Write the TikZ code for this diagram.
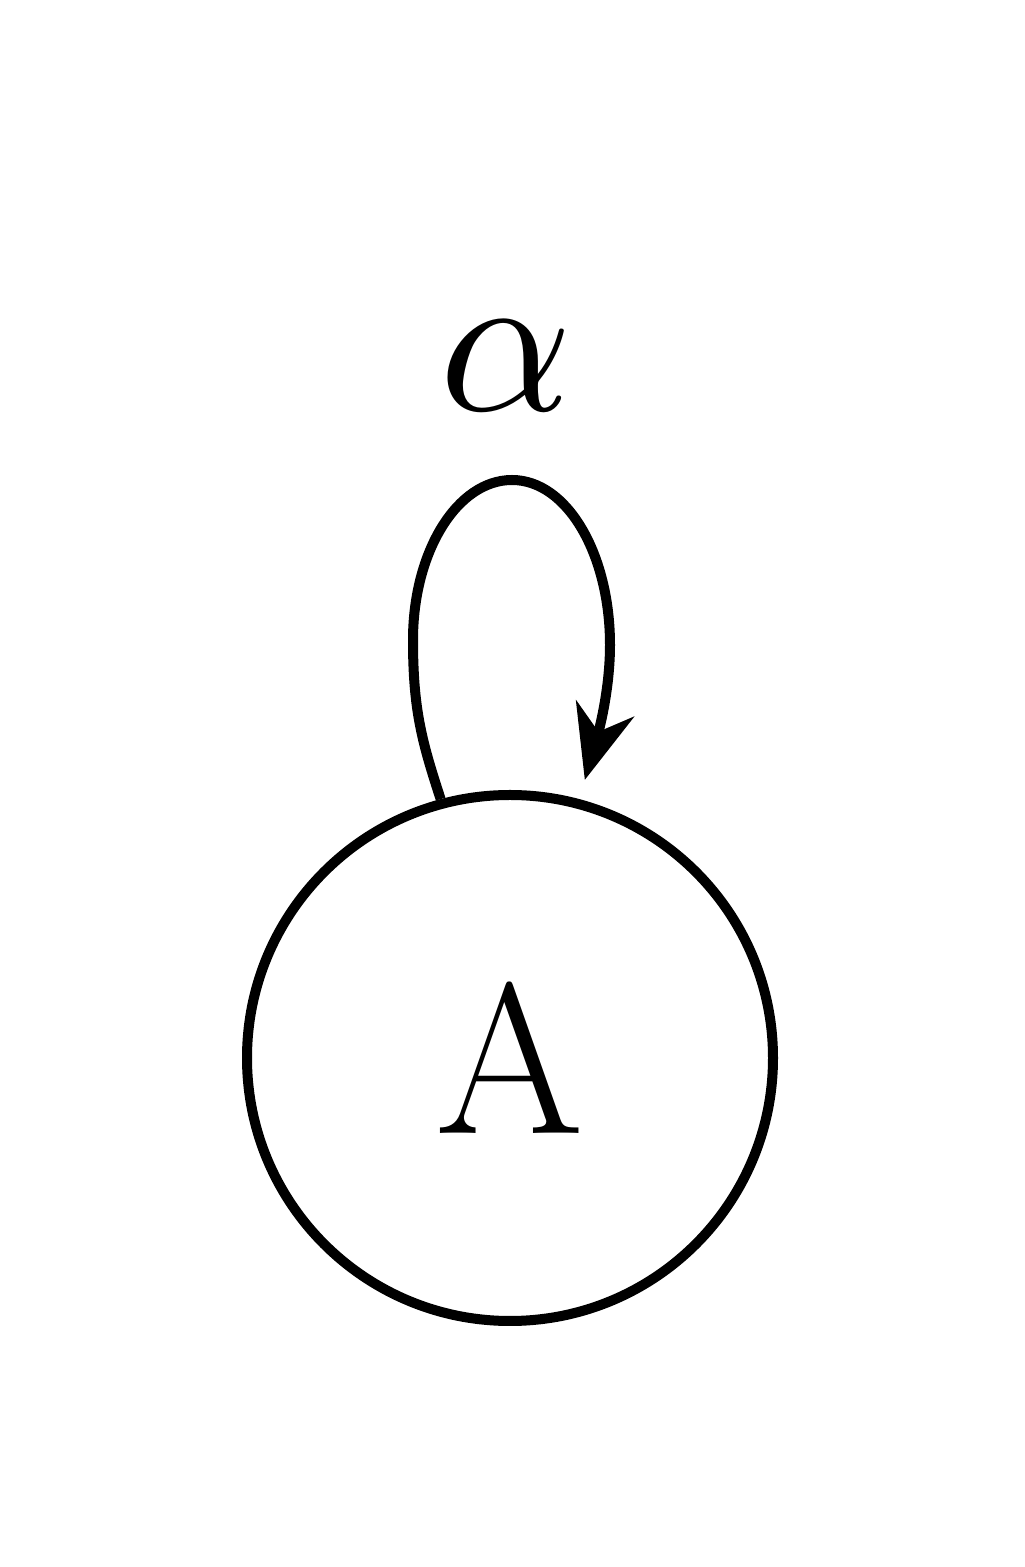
\documentclass[tikz,border=0pt]{standalone}
\usetikzlibrary{arrows.meta}
\begin{document}
\begin{tikzpicture}[
  state/.style={draw, circle, line width=0.1cm, minimum size=5.26cm, inner sep=0pt, font=\fontsize{61}{72}\selectfont},
  loopline/.style={line width=0.1cm, -{Stealth[length=0.74cm, width=0.6cm, inset=0.24cm]}},
  lbl/.style={scale=5.9, inner sep=0pt}
]
\useasboundingbox (0,0) rectangle (10.24,15.67);
\node[state] (A) at (5.10,5.09) {A};
\coordinate (lft) at (4.13,9.27);
\coordinate (top) at (5.12,10.87);
\coordinate (rgt) at (6.10,9.22);
\node[lbl] (alpha) at (5.06,12.01) {$\alpha$};
\draw[loopline, shorten >=0.2cm] (A.105) .. controls (4.22,8.25) and (4.13,8.57) .. (lft)
  .. controls (4.13,10.15) and (4.57,10.87) .. (top)
  .. controls (5.67,10.87) and (6.10,10.13) .. (rgt)
  .. controls (6.10,8.67) and (5.93,8.16) .. (A.75);
\end{tikzpicture}
\end{document}
